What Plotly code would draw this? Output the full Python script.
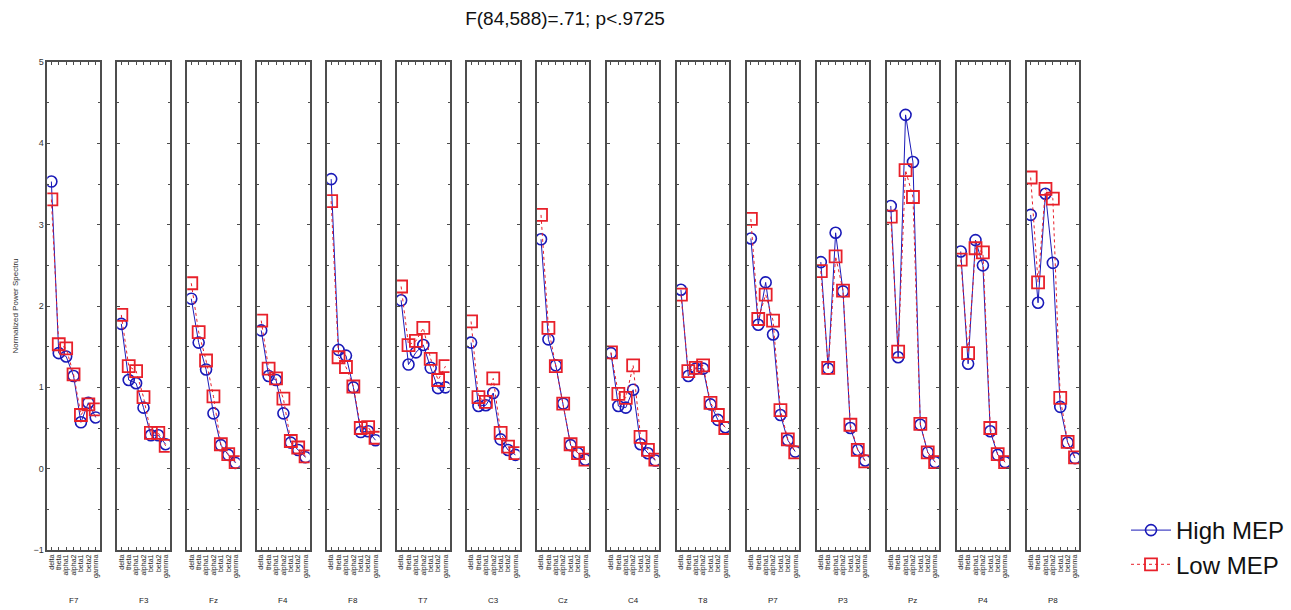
import plotly.graph_objects as go

channels = ["F7", "F3", "Fz", "F4", "F8", "T7", "C3", "Cz", "C4", "T8", "P7", "P3", "Pz", "P4", "P8"]
bands = ["delta", "theta", "alpha1", "alpha2", "beta1", "beta2", "gamma"]

high_mep = [
    [3.53, 1.42, 1.38, 1.14, 0.57, 0.81, 0.63],   # F7
    [1.78, 1.09, 1.05, 0.75, 0.41, 0.41, 0.30],   # F3
    [2.09, 1.55, 1.22, 0.68, 0.29, 0.17, 0.07],   # Fz
    [1.70, 1.14, 1.09, 0.68, 0.32, 0.23, 0.14],   # F4
    [3.56, 1.46, 1.39, 1.00, 0.45, 0.46, 0.35],   # F8
    [2.07, 1.28, 1.43, 1.52, 1.24, 0.99, 1.00],   # T7
    [1.55, 0.77, 0.78, 0.93, 0.36, 0.23, 0.17],   # C3
    [2.82, 1.59, 1.27, 0.80, 0.29, 0.19, 0.11],   # Cz
    [1.42, 0.77, 0.75, 0.97, 0.30, 0.19, 0.10],   # C4
    [2.20, 1.14, 1.23, 1.23, 0.79, 0.60, 0.51],   # T8
    [2.83, 1.77, 2.29, 1.65, 0.66, 0.35, 0.21],   # P7
    [2.54, 1.23, 2.90, 2.18, 0.50, 0.23, 0.10],   # P3
    [3.23, 1.37, 4.35, 3.77, 0.54, 0.20, 0.08],   # Pz
    [2.67, 1.29, 2.81, 2.50, 0.46, 0.17, 0.08],   # P4
    [3.12, 2.04, 3.38, 2.53, 0.76, 0.32, 0.13],   # P8
]

low_mep = [
    [3.31, 1.53, 1.48, 1.16, 0.66, 0.79, 0.73],   # F7
    [1.89, 1.26, 1.20, 0.88, 0.44, 0.44, 0.28],   # F3
    [2.28, 1.68, 1.33, 0.89, 0.30, 0.18, 0.08],   # Fz
    [1.82, 1.23, 1.11, 0.86, 0.34, 0.26, 0.15],   # F4
    [3.29, 1.37, 1.25, 1.01, 0.50, 0.51, 0.38],   # F8
    [2.24, 1.52, 1.57, 1.73, 1.35, 1.09, 1.26],   # T7
    [1.81, 0.88, 0.82, 1.11, 0.44, 0.27, 0.19],   # C3
    [3.12, 1.73, 1.26, 0.80, 0.30, 0.19, 0.11],   # Cz
    [1.43, 0.92, 0.87, 1.27, 0.39, 0.23, 0.11],   # C4
    [2.14, 1.20, 1.24, 1.27, 0.81, 0.66, 0.50],   # T8
    [3.07, 1.84, 2.14, 1.82, 0.72, 0.36, 0.20],   # P7
    [2.43, 1.24, 2.61, 2.19, 0.54, 0.23, 0.09],   # P3
    [3.10, 1.44, 3.67, 3.34, 0.55, 0.20, 0.08],   # Pz
    [2.57, 1.42, 2.71, 2.66, 0.50, 0.18, 0.08],   # P4
    [3.58, 2.29, 3.44, 3.32, 0.87, 0.33, 0.14],   # P8
]

W, H = 1291, 610
BLUE = "#1a1ab8"
RED = "#e8202a"
FRAME = "#4d4d4d"

fig = go.Figure()
layout_axes = {}

panel_left0 = 47.3
panel_step = 69.95
panel_w = 52.5
y_top_px, y_bot_px = 62, 550

for i, ch in enumerate(channels):
    n = "" if i == 0 else str(i + 1)
    xa = "x" + n
    ya = "y" + n
    left = panel_left0 + i * panel_step
    right = left + panel_w
    fig.add_trace(go.Scatter(
        x=bands, y=high_mep[i], xaxis=xa, yaxis=ya,
        mode="lines+markers", name="High MEP", legendgroup="high",
        showlegend=(i == 0),
        line=dict(color=BLUE, width=1),
        marker=dict(symbol="circle-open", size=11, color=BLUE, line=dict(width=1.6, color=BLUE)),
    ))
    fig.add_trace(go.Scatter(
        x=bands, y=low_mep[i], xaxis=xa, yaxis=ya,
        mode="lines+markers", name="Low MEP", legendgroup="low",
        showlegend=(i == 0),
        line=dict(color=RED, width=1, dash="dot"),
        marker=dict(symbol="square-open", size=12, color=RED, line=dict(width=1.8, color=RED)),
    ))
    layout_axes["xaxis" + n] = dict(
        domain=[left / W, right / W], anchor=ya, automargin=False,
        type="category", range=[-0.55, 6.55],
        tickmode="linear", tick0=0, dtick=1,
        showline=True, linecolor=FRAME, linewidth=1.5, mirror="ticks",
        ticks="inside", ticklen=3, tickcolor=FRAME,
        tickangle=-90, tickfont=dict(size=7, color="#222", family="Arial"),
        showgrid=False, zeroline=False, fixedrange=True,
    )
    layout_axes["yaxis" + n] = dict(
        domain=[1 - y_bot_px / H, 1 - y_top_px / H], anchor=xa, automargin=False,
        range=[-1, 5], dtick=1, tick0=0,
        showline=True, linecolor=FRAME, linewidth=1.5, mirror="ticks",
        ticks="inside", ticklen=3, tickcolor=FRAME,
        minor=dict(dtick=0.5, ticks="inside", ticklen=2, tickcolor=FRAME),
        showticklabels=(i == 0),
        tickfont=dict(size=9, color="#333", family="Arial"),
        showgrid=False, zeroline=False, fixedrange=True,
    )
    if i == 0:
        layout_axes["yaxis" + n]["title"] = dict(
            text="Normalized Power Spectru", font=dict(size=8, color="#333", family="Arial"),
            standoff=14,
        )
    fig.add_annotation(
        text=ch, x=(left + right) / 2 / W, y=1 - 600 / H, xref="paper", yref="paper",
        showarrow=False, font=dict(size=8, color="#222", family="Arial"),
        xanchor="center", yanchor="middle",
    )

fig.update_layout(
    width=W, height=H,
    margin=dict(l=0, r=0, t=0, b=0),
    paper_bgcolor="white", plot_bgcolor="white",
    font=dict(family="Arial"),
    title=dict(
        text="F(84,588)=.71; p<.9725", x=565 / W, xanchor="center",
        y=1 - 18 / H, yanchor="middle", yref="container",
        font=dict(size=19, color="#111", family="Arial"),
    ),
    legend=dict(
        x=1126 / W, y=1 - 508 / H, xanchor="left", yanchor="top",
        font=dict(size=24, color="#111", family="Arial"),
        bgcolor="rgba(0,0,0,0)", tracegroupgap=0, itemwidth=40,
    ),
    **layout_axes,
)

fig.write_html(
    "out.html",
    config={"displayModeBar": False},
    post_script="document.body.style.margin='0';document.body.style.overflow='hidden';",
)
